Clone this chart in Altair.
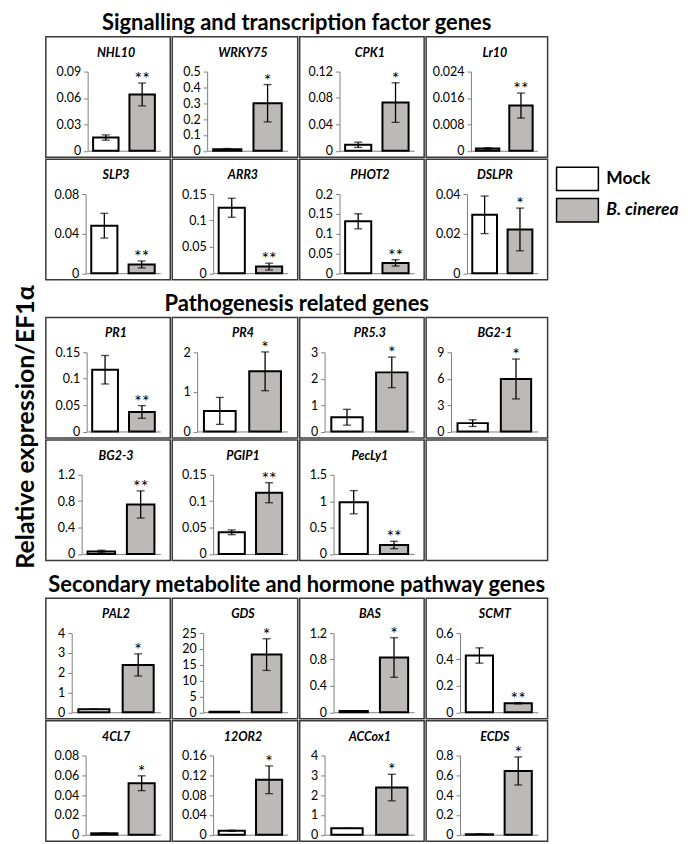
import altair as alt
import pandas as pd

conditions = ["Mock", "B. cinerea"]
section_titles = ["Signalling and transcription factor genes",
                  "Pathogenesis related genes",
                  "Secondary metabolite and hormone pathway genes"]
section_sizes = [8, 7, 8]
genes = ["NHL10", "WRKY75", "CPK1", "Lr10", "SLP3", "ARR3", "PHOT2", "DSLPR",
         "PR1", "PR4", "PR5.3", "BG2-1", "BG2-3", "PGIP1", "PecLy1",
         "PAL2", "GDS", "BAS", "SCMT", "4CL7", "12OR2", "ACCox1", "ECDS"]
mock_mean = [0.015, 0.010, 0.009, 0.0007, 0.048, 0.124, 0.131, 0.0295,
             0.117, 0.52, 0.54, 0.95, 0.036, 0.041, 0.98,
             0.15, 0.15, 0.02, 0.43, 0.0014, 0.008, 0.32, 0.005]
mock_err = [0.003, 0.004, 0.004, 0.0002, 0.0125, 0.018, 0.019, 0.0095,
            0.027, 0.34, 0.30, 0.38, 0.02, 0.0045, 0.22,
            0.0, 0.0, 0.0, 0.058, 0.0003, 0.001, 0.0, 0.0]
bc_mean = [0.064, 0.30, 0.073, 0.0137, 0.0088, 0.0125, 0.026, 0.0221,
           0.037, 1.52, 2.24, 5.97, 0.75, 0.116, 0.17,
           2.39, 18.2, 0.83, 0.068, 0.052, 0.111, 2.38, 0.644]
bc_err = [0.013, 0.118, 0.030, 0.0038, 0.0035, 0.0065, 0.008, 0.0108,
          0.012, 0.49, 0.58, 2.27, 0.206, 0.019, 0.07,
          0.56, 5.0, 0.30, 0.005, 0.0075, 0.028, 0.67, 0.142]
signif = ["**", "*", "*", "**", "**", "**", "**", "*",
          "**", "*", "*", "*", "**", "**", "**",
          "*", "*", "*", "**", "*", "*", "*", "*"]
y_max = [0.09, 0.5, 0.12, 0.024, 0.08, 0.15, 0.2, 0.04,
         0.15, 2, 3, 9, 1.2, 0.15, 1.5,
         4, 25, 1.2, 0.6, 0.08, 0.16, 4, 0.8]
y_step = [0.03, 0.1, 0.04, 0.008, 0.04, 0.05, 0.05, 0.02,
          0.05, 1, 1, 3, 0.4, 0.05, 0.5,
          1, 5, 0.4, 0.2, 0.02, 0.04, 1, 0.2]

# ---- styling ----
axis_offset = [42, 35, 40, 45, 40, 41, 40, 41,
               41, 25, 25, 25, 36, 41, 34,
               26, 31, 34, 34, 40, 41, 25, 34]
COL_W = [125, 126, 125, 122]
PANEL_H = 121
PLOT_TOP = 35
BOTTOM_GAP = 6.5
RIGHT_GAP = 10
TITLE_Y = 16
FONT = "Lato"
FILLS = ["white", "#bdb9b9"]
panel_view = alt.ViewBackground(stroke="#3a3a3a", strokeWidth=1.5, fill="white")


def make_panel(i, w):
    df = pd.DataFrame({
        "cond": conditions,
        "mean": [mock_mean[i], bc_mean[i]],
        "lo": [mock_mean[i] - mock_err[i], bc_mean[i] - bc_err[i]],
        "hi": [mock_mean[i] + mock_err[i], bc_mean[i] + bc_err[i]],
        "sig": ["", signif[i]],
    })
    n = int(round(y_max[i] / y_step[i]))
    ticks = [round(k * y_step[i], 6) for k in range(n + 1)]
    xs = alt.Scale(domain=conditions, range=[axis_offset[i], w - RIGHT_GAP],
                   paddingInner=0.3, paddingOuter=0.15)
    ys = alt.Scale(domain=[0, y_max[i]], range=[PANEL_H - BOTTOM_GAP, PLOT_TOP],
                   nice=False, zero=True)
    xax = alt.Axis(title=None, labels=False, ticks=False, domainColor="#7f7f7f",
                   domainWidth=1, offset=-BOTTOM_GAP, orient="bottom", grid=False)
    yax = alt.Axis(title=None, values=ticks, labelExpr="'' + datum.value",
                   offset=-axis_offset[i],
                   grid=False, domainColor="#7f7f7f", domainWidth=1, tickColor="#7f7f7f",
                   tickSize=4, labelPadding=3, labelFontSize=12.5, labelColor="black",
                   labelFont=FONT, labelFlush=False, labelOverlap=False, orient="left")
    X = alt.X("cond:N", scale=xs, axis=xax, sort=conditions, title=None)
    base = alt.Chart(df)
    bars = base.mark_bar(stroke="black", strokeWidth=2).encode(
        x=X,
        y=alt.Y("mean:Q", scale=ys, axis=yax, title=None),
        fill=alt.Fill("cond:N", scale=alt.Scale(domain=conditions, range=FILLS), legend=None),
    )
    rule = base.mark_rule(color="black", strokeWidth=1.3).encode(
        x=X, y=alt.Y("lo:Q", scale=ys, axis=yax, title=None), y2="hi:Q")
    cap_lo = base.mark_tick(color="black", thickness=1.3, size=8, orient="horizontal").encode(
        x=X, y=alt.Y("lo:Q", scale=ys, axis=yax, title=None))
    cap_hi = base.mark_tick(color="black", thickness=1.3, size=8, orient="horizontal").encode(
        x=X, y=alt.Y("hi:Q", scale=ys, axis=yax, title=None))
    stars = base.transform_filter(alt.datum.sig != "").mark_text(
        fontSize=18, baseline="alphabetic", dy=2, font=FONT, color="black").encode(
        x=X, y=alt.Y("hi:Q", scale=ys, axis=yax, title=None), text="sig:N")
    head = alt.Chart(pd.DataFrame({"gene": [genes[i]]})).mark_text(
        fontSize=12.5, fontStyle="italic", fontWeight="bold", font=FONT,
        align="center", baseline="middle", color="black").encode(
        text="gene:N", x=alt.value(w / 2 + 8), y=alt.value(TITLE_Y))
    return alt.layer(bars, rule, cap_lo, cap_hi, stars, head).properties(
        width=w, height=PANEL_H, view=panel_view)


def make_empty(w):
    return alt.Chart(pd.DataFrame({"v": [0]})).mark_point(opacity=0).encode(
        x=alt.X("v:Q", axis=None), y=alt.Y("v:Q", axis=None)
    ).properties(width=w, height=PANEL_H, view=panel_view)


sections = []
start = 0
for s, size in enumerate(section_sizes):
    idx = list(range(start, start + size))
    start += size
    rows = []
    for r in range(2):
        cells = []
        for c in range(4):
            k = r * 4 + c
            if k < len(idx):
                cells.append(make_panel(idx[k], COL_W[c]))
            else:
                cells.append(make_empty(COL_W[c]))
        rows.append(alt.hconcat(*cells, spacing=0))
    sections.append(alt.vconcat(*rows, spacing=0, title=alt.TitleParams(
        section_titles[s], fontSize=22, fontWeight="bold", font=FONT,
        anchor="middle", offset=1)))

# legend panel
leg_df = pd.DataFrame({"cond": conditions})
LY = alt.Y("cond:N", scale=alt.Scale(domain=conditions, range=[131, 186],
                                      paddingInner=0.25, paddingOuter=0), axis=None)
leg_base = alt.Chart(leg_df)
leg_rect = leg_base.mark_rect(stroke="black", strokeWidth=1.5).encode(
    y=LY, x=alt.value(0), x2=alt.value(42),
    fill=alt.Fill("cond:N", scale=alt.Scale(domain=conditions, range=FILLS), legend=None))
leg_t1 = leg_base.transform_filter(alt.datum.cond == "Mock").mark_text(
    align="left", baseline="middle", fontSize=17.5, fontWeight="bold", font=FONT).encode(
    y=LY, x=alt.value(50), text="cond:N")
leg_t2 = leg_base.transform_filter(alt.datum.cond != "Mock").mark_text(
    align="left", baseline="middle", fontSize=17.5, fontWeight="bold", fontStyle="italic",
    font=FONT).encode(y=LY, x=alt.value(50), text="cond:N")
legend = alt.layer(leg_rect, leg_t1, leg_t2).properties(
    width=125, height=230, view=alt.ViewBackground(stroke="transparent"))

chart = alt.vconcat(
    alt.hconcat(sections[0], legend, spacing=6),
    sections[1], sections[2],
    spacing=12,
    title=alt.TitleParams("Relative expression/EF1α", orient="left", anchor="middle",
                          fontSize=25, fontWeight="bold", font=FONT, offset=6),
).properties(
    padding={"left": 6, "top": 2, "right": 0, "bottom": 0}, background="white"
).configure(font=FONT).configure_view(stroke="transparent")

chart.save("out.html", embed_options={"renderer": "svg", "actions": False})
